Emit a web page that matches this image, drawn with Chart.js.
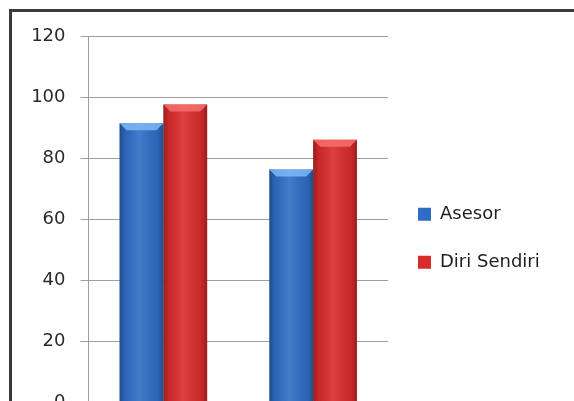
<!DOCTYPE html>
<html>
<head>
<meta charset="utf-8">
<script src="https://cdn.jsdelivr.net/npm/chart.js@4/dist/chart.umd.min.js"></script>
<style>
  html, body { margin: 0; padding: 0; width: 574px; height: 401px; overflow: hidden; background: #fff; }
  #wrap { position: relative; width: 574px; height: 401px; overflow: hidden; }
  #frame { position: absolute; left: 9px; top: 9px; width: 620px; height: 480px; border: 3px solid #3a3a3a; box-sizing: border-box; pointer-events: none; }
  canvas { position: absolute; left: 0; top: 0; }
</style>
</head>
<body>
<div id="wrap">
  <canvas id="c" width="574" height="460"></canvas>
  <div id="frame"></div>
</div>
<script>
// Two groups, two respondents per group
const categories = ['1', '2'];
const seriesNames = ['Asesor', 'Diri Sendiri'];
const asesorValues = [91.4, 76.3];
const diriSendiriValues = [97.6, 86];
const yTicks = [0, 20, 40, 60, 80, 100, 120];

const FONT = 'DejaVu Sans';
const LEGEND_SIZE = 18;
const LEGEND_PAD = 30;
const LEGEND_BOX = 13;
const PLOT_RIGHT = 388;

// Width of the right-hand legend, so the plot ends where it should
const mctx = document.createElement('canvas').getContext('2d');
mctx.font = LEGEND_SIZE + 'px "' + FONT + '"';
const longest = Math.max(...seriesNames.map(s => mctx.measureText(s).width));
const legendWidth = LEGEND_PAD + LEGEND_BOX + LEGEND_SIZE / 2 + longest + 10;
const rightPad = 574 - PLOT_RIGHT - legendWidth;

// Shade each bar: darker sides, lighter centre, bevelled top face
const bevelPlugin = {
  id: 'bevel',
  afterDatasetsDraw(chart) {
    const ctx = chart.ctx;
    const tops = ['rgba(130,190,250,0.8)', 'rgba(250,115,115,0.8)'];
    chart.data.datasets.forEach((ds, di) => {
      chart.getDatasetMeta(di).data.forEach(bar => {
        const { x, y, base, width } = bar.getProps(['x', 'y', 'base', 'width'], true);
        const l = x - width / 2, r = x + width / 2;
        ctx.save();
        const g = ctx.createLinearGradient(l, 0, r, 0);
        g.addColorStop(0, 'rgba(0,0,0,0.30)');
        g.addColorStop(0.12, 'rgba(0,0,0,0.08)');
        g.addColorStop(0.45, 'rgba(255,255,255,0.10)');
        g.addColorStop(0.88, 'rgba(0,0,0,0.08)');
        g.addColorStop(1, 'rgba(0,0,0,0.30)');
        ctx.fillStyle = g;
        ctx.fillRect(l, y, width, base - y);
        const b = 7;
        ctx.beginPath();
        ctx.moveTo(l, y);
        ctx.lineTo(r, y);
        ctx.lineTo(r - b, y + b);
        ctx.lineTo(l + b, y + b);
        ctx.closePath();
        ctx.fillStyle = tops[di];
        ctx.fill();
        ctx.restore();
      });
    });
  }
};

new Chart(document.getElementById('c'), {
  type: 'bar',
  data: {
    labels: categories,
    datasets: [
      { label: seriesNames[0], data: asesorValues, backgroundColor: '#2f6dc4' },
      { label: seriesNames[1], data: diriSendiriValues, backgroundColor: '#d82a2a' }
    ]
  },
  options: {
    responsive: false,
    animation: false,
    devicePixelRatio: 1,
    layout: { padding: { top: 36, left: 0, right: rightPad, bottom: 19.5 } },
    datasets: { bar: { barPercentage: 1, categoryPercentage: 0.585 } },
    scales: {
      x: {
        display: true,
        ticks: { display: false },
        grid: { display: false },
        border: { display: false },
        afterFit(s) { s.height = 38; }
      },
      y: {
        min: 0,
        max: 120,
        afterBuildTicks(s) { s.ticks = yTicks.map(v => ({ value: v })); },
        afterFit(s) { s.width = 88.5; },
        ticks: { color: '#2a2a2a', font: { family: FONT, size: 18 }, padding: 15 },
        grid: { color: '#9e9e9e', lineWidth: 1, tickLength: 8 },
        border: { display: true, color: '#9e9e9e' }
      }
    },
    plugins: {
      legend: {
        position: 'right',
        align: 'center',
        maxWidth: 400,
        labels: {
          color: '#1e1e1e',
          font: { family: FONT, size: LEGEND_SIZE },
          boxWidth: LEGEND_BOX,
          boxHeight: LEGEND_BOX,
          padding: LEGEND_PAD
        }
      },
      tooltip: { enabled: false }
    }
  },
  plugins: [bevelPlugin]
});
</script>
</body>
</html>
